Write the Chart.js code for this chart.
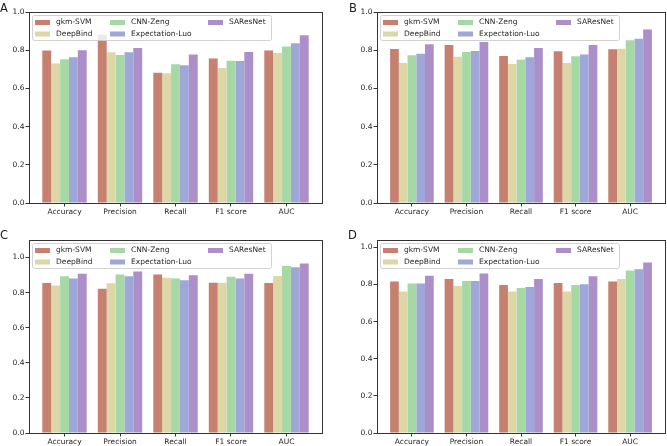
<!DOCTYPE html>
<html lang="en">
<head>
<meta charset="UTF-8">
<title>Model comparison | Panels A-D</title>
<script src="https://cdn.jsdelivr.net/npm/chart.js"></script>
<style>
  body { margin: 0; background: #fff; overflow: hidden; width: 667px; height: 446px; position: relative; }
  .painel { position: absolute; }
  .letra { position: absolute; font: 11.5px/11.5px "DejaVu Sans", sans-serif; color: #1a1a1a; }
</style>
</head>
<body>
  <div class="painel" style="left:0;top:0;width:333px;height:223px"><canvas id="grafA"></canvas></div>
  <div class="painel" style="left:333px;top:0;width:334px;height:223px"><canvas id="grafB"></canvas></div>
  <div class="painel" style="left:0;top:223px;width:333px;height:223px"><canvas id="grafC"></canvas></div>
  <div class="painel" style="left:333px;top:223px;width:334px;height:223px"><canvas id="grafD"></canvas></div>

  <div class="letra" style="left:0;top:2.5px">A</div>
  <div class="letra" style="left:349px;top:2.5px">B</div>
  <div class="letra" style="left:0;top:229.5px">C</div>
  <div class="letra" style="left:348px;top:229.5px">D</div>

<script>
  // categorias e series
  const metricas = ['Accuracy', 'Precision', 'Recall', 'F1 score', 'AUC'];
  const modelos = ['gkm-SVM', 'DeepBind', 'CNN-Zeng', 'Expectation-Luo', 'SAResNet'];
  const ticksY = [0, 0.2, 0.4, 0.6, 0.8, 1.0];

  // valores, uma linha por modelo (mesma ordem de "modelos")
  const valoresA = [
    [0.799, 0.881, 0.682, 0.756, 0.799],
    [0.730, 0.789, 0.679, 0.707, 0.785],
    [0.752, 0.775, 0.726, 0.745, 0.819],
    [0.763, 0.789, 0.721, 0.743, 0.836],
    [0.800, 0.812, 0.777, 0.791, 0.878]
  ];
  const valoresB = [
    [0.806, 0.827, 0.770, 0.794, 0.805],
    [0.733, 0.766, 0.728, 0.733, 0.808],
    [0.773, 0.791, 0.750, 0.768, 0.852],
    [0.782, 0.796, 0.763, 0.777, 0.860],
    [0.831, 0.843, 0.812, 0.827, 0.908]
  ];
  const valoresC = [
    [0.855, 0.822, 0.904, 0.857, 0.855],
    [0.841, 0.853, 0.885, 0.857, 0.895],
    [0.893, 0.904, 0.881, 0.891, 0.952],
    [0.881, 0.893, 0.870, 0.880, 0.945],
    [0.908, 0.920, 0.899, 0.908, 0.966]
  ];
  const valoresD = [
    [0.817, 0.830, 0.797, 0.808, 0.817],
    [0.762, 0.792, 0.762, 0.762, 0.830],
    [0.805, 0.819, 0.781, 0.797, 0.875],
    [0.806, 0.819, 0.787, 0.801, 0.882],
    [0.848, 0.860, 0.830, 0.844, 0.919]
  ];

  const cores = ['#c6806f', '#ddd7a7', '#a6d8a6', '#9ea7d8', '#ac8ec9'];
  const corTexto = '#262626';
  const corEixo = '#333333';

  Chart.defaults.font.family = '"DejaVu Sans", sans-serif';
  Chart.defaults.font.size = 7.5;
  Chart.defaults.color = corTexto;

  // legenda em 3 colunas (ordem por coluna) + moldura completa do eixo
  const molduraPlugin = {
    id: 'moldura',
    afterDraw(chart) {
      const { ctx, chartArea: a } = chart;
      const x0 = a.left + 3, y0 = a.top + 3, w = 239, h = 25;
      ctx.save();
      ctx.fillStyle = 'rgba(255,255,255,0.8)';
      ctx.strokeStyle = 'rgba(204,204,204,0.9)';
      ctx.lineWidth = 1;
      ctx.beginPath();
      ctx.roundRect(x0 + 0.5, y0 + 0.5, w, h, 2);
      ctx.fill();
      ctx.stroke();

      const colunas = [3, 78, 176];
      ctx.font = '7.5px "DejaVu Sans", sans-serif';
      ctx.textBaseline = 'middle';
      chart.data.datasets.forEach((ds, i) => {
        const sx = x0 + colunas[Math.floor(i / 2)];
        const sy = y0 + 7.5 + (i % 2) * 11.5;
        ctx.fillStyle = ds.backgroundColor;
        ctx.fillRect(sx, sy - 2.5, 15, 5);
        ctx.fillStyle = corTexto;
        ctx.fillText(ds.label, sx + 21, sy);
      });

      ctx.strokeStyle = corEixo;
      ctx.lineWidth = 1;
      ctx.strokeRect(Math.round(a.left) + 0.5, Math.round(a.top) + 0.5,
        Math.round(a.right - a.left), Math.round(a.bottom - a.top));
      ctx.restore();
    }
  };

  function criaGrafico(id, valores, maxY, padding, larguraY, alturaX) {
    return new Chart(document.getElementById(id), {
      type: 'bar',
      data: {
        labels: metricas.map((_, i) => i),
        datasets: modelos.map((nome, i) => ({
          label: nome,
          data: valores[i],
          backgroundColor: cores[i],
          borderWidth: 0,
          categoryPercentage: 0.8,
          barPercentage: 1.0
        }))
      },
      options: {
        responsive: true,
        maintainAspectRatio: false,
        animation: false,
        layout: { padding: padding },
        plugins: { legend: { display: false }, tooltip: { enabled: false } },
        scales: {
          x: {
            type: 'linear',
            offset: false,
            min: -0.64,
            max: 4.64,
            afterBuildTicks: (eixo) => { eixo.ticks = metricas.map((_, i) => ({ value: i })); },
            afterFit: (eixo) => { eixo.height = alturaX; },
            ticks: {
              autoSkip: false,
              maxRotation: 0,
              padding: 1.5,
              callback: (v) => metricas[v]
            },
            grid: { drawOnChartArea: false, drawTicks: true, tickLength: 3.5, color: corEixo, offset: false },
            border: { display: true, color: corEixo, width: 1 }
          },
          y: {
            min: 0,
            max: maxY,
            afterBuildTicks: (eixo) => { eixo.ticks = ticksY.map((v) => ({ value: v })); },
            afterFit: (eixo) => { eixo.width = larguraY; },
            ticks: { padding: 1, callback: (v) => v.toFixed(1) },
            grid: { drawOnChartArea: false, drawTicks: true, tickLength: 3.5, color: corEixo },
            border: { display: true, color: corEixo, width: 1 }
          }
        }
      },
      plugins: [molduraPlugin]
    });
  }

  criaGrafico('grafA', valoresA, 1.0, { left: 0, right: 11, top: 12, bottom: 0 }, 29, 20);
  criaGrafico('grafB', valoresB, 1.0, { left: 0, right: 2, top: 12, bottom: 0 }, 44, 20);
  criaGrafico('grafC', valoresC, 1.1, { left: 0, right: 11, top: 17, bottom: 0 }, 29, 13);
  criaGrafico('grafD', valoresD, 1.04, { left: 0, right: 2, top: 17, bottom: 0 }, 44, 13);
</script>
</body>
</html>
